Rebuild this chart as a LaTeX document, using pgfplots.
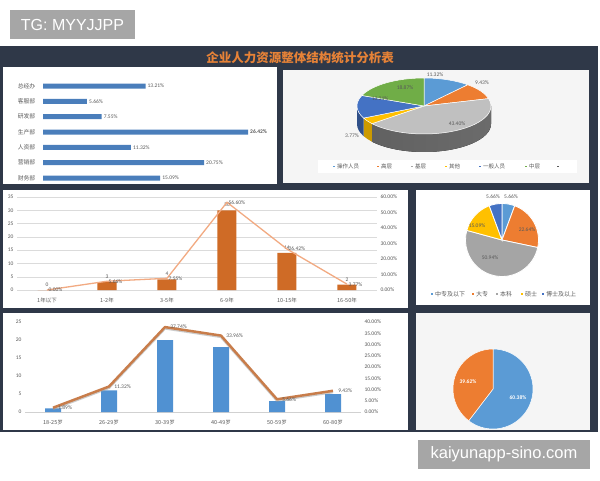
\documentclass[border=0pt]{standalone}
\usepackage{pgfplots}
\pgfplotsset{compat=1.18}
\usepackage{fontspec}
\setmainfont{Carlito}
\newfontfamily\cjk{Noto Sans CJK SC}
\newfontfamily\wm{Liberation Sans}
\pgfplotsset{/pgf/number format/assume math mode=true}
\definecolor{dashbg}{RGB}{47,56,72}
\definecolor{wmgray}{RGB}{166,166,166}
\definecolor{ttl}{RGB}{230,130,55}
\definecolor{barblue}{RGB}{74,126,187}
\definecolor{lbl}{RGB}{89,89,89}
\definecolor{xblue}{RGB}{91,155,213}
\definecolor{xorange}{RGB}{237,125,49}
\definecolor{xgray}{RGB}{165,165,165}
\definecolor{xyellow}{RGB}{255,192,0}
\definecolor{xdblue}{RGB}{68,114,196}
\definecolor{xgreen}{RGB}{112,173,71}
\definecolor{svcbar}{RGB}{207,107,38}
\definecolor{svcline}{RGB}{242,170,130}
\definecolor{agebar}{RGB}{80,145,210}
\definecolor{ageline}{RGB}{200,125,75}
\definecolor{panelgray}{RGB}{245,245,245}
\newcommand{\sm}{\fontsize{5.5}{6}\selectfont}
\newcommand{\sector}[5]{\fill[#1] (axis cs:0,0) -- ++(#2:#4 and #5) arc[start angle=#2,end angle=#3,x radius=#4,y radius=#5] -- cycle;}
\newcommand{\sideseg}[6]{\fill[#1] (axis cs:0,0) ++(#2:#4 and #5) -- ++(0pt,-#6) arc[start angle=#2,end angle=#3,x radius=#4,y radius=#5] -- ++(0pt,#6) arc[start angle=#3,end angle=#2,x radius=#4,y radius=#5] -- cycle;}
\tikzset{
 sd1/.style={fill=xblue!70!black}, sd2/.style={fill=xorange!70!black},
 sd3/.style={left color=black!62, middle color=black!35, right color=black!58},
 sd4/.style={fill=xyellow!80!black}, sd5/.style={fill=xdblue!70!black}, sd6/.style={fill=xgreen!70!black}}
\begin{document}
\begin{tikzpicture}[x=1pt,y=1pt]
\path[use as bounding box] (0,0) rectangle (600,480);
\fill[white] (0,0) rectangle (600,480);
\fill[wmgray] (10,441) rectangle (135,470);
\node[text=white, font=\wm\fontsize{16}{16}\selectfont] at (72.5,455.5) {TG: MYYJJPP};
\fill[dashbg] (0,48) rectangle (598,434);
\node[font=\cjk\bfseries\fontsize{12.5}{13}\selectfont, text=ttl] at (300,422) {企业人力资源整体结构统计分析表};
\fill[white] (3,296) rectangle (277,413);
\fill[panelgray] (283,297) rectangle (589,410);
\fill[white] (3,172) rectangle (408,290);
\fill[white] (416,175) rectangle (590,290);
\fill[white] (3,50) rectangle (408,167);
\fill[panelgray] (416,50) rectangle (590,167);
\fill[wmgray] (418,11) rectangle (590,40);
\node[text=white,font=\wm\fontsize{16.5}{17}\selectfont] at (504,25.5) {kaiyunapp-sino.com};

% Panel 1: department
\begin{axis}[at={(43pt,294.3pt)}, anchor=south west, scale only axis, width=232.8pt, height=107.3pt,
 xbar, xmin=0, xmax=30, ymin=-0.5, ymax=6.5, y dir=reverse, bar width=5pt,
 hide x axis, axis y line*=left, y axis line style={draw=none},
 ytick={0,...,6}, yticklabels={总经办,客服部,研发部,生产部,人资部,营销部,财务部},
 yticklabel style={font=\cjk\fontsize{5.8}{6}\selectfont, text=lbl}, ytick style={draw=none},
 nodes near coords, point meta=explicit symbolic,
 every node near coord/.append style={font=\sm, text=lbl, anchor=west, inner sep=2pt}, clip=false]
\addplot[fill=barblue, draw=none] coordinates {(13.21,0)[13.21\%] (5.66,1)[5.66\%] (7.55,2)[7.55\%] (26.42,3)[\textbf{26.42\%}] (11.32,4)[11.32\%] (20.75,5)[20.75\%] (15.09,6)[15.09\%]};
\end{axis}

% Panel 2: 3D pie
\begin{axis}[at={(424pt,374pt)}, anchor=center, scale only axis, width=134pt, height=56pt,
 xmin=-1,xmax=1,ymin=-1,ymax=1, hide axis, clip=false]
\pgfplotsextra{
 \gdef\cum{0}
 \foreach \v/\s in {11.32/sd1, 9.43/sd2, 43.40/sd3, 3.77/sd4, 13.21/sd5, 18.87/sd6}{
   \pgfmathsetmacro{\a}{90-3.6*\cum}
   \pgfmathsetmacro{\b}{90-3.6*(\cum+\v)}
   \pgfmathsetmacro{\sa}{max(\b,-180)}
   \pgfmathsetmacro{\sb}{min(\a,0)}
   \pgfmathparse{\sa<\sb ? 1 : 0}
   \ifnum\pgfmathresult=1 \sideseg{\s}{\sb}{\sa}{67pt}{28pt}{18pt}\fi
   \pgfmathsetmacro{\n}{\cum+\v}\xdef\cum{\n}
 }
 \gdef\cum{0}
 \foreach \v/\c in {11.32/xblue, 9.43/xorange, 43.40/xgray!70, 3.77/xyellow, 13.21/xdblue, 18.87/xgreen}{
   \pgfmathsetmacro{\a}{90-3.6*\cum}
   \pgfmathsetmacro{\b}{90-3.6*(\cum+\v)}
   \sector{\c,draw=white,line width=0.5pt}{\a}{\b}{67pt}{28pt}
   \pgfmathsetmacro{\n}{\cum+\v}\xdef\cum{\n}
 }
}
\end{axis}
\begin{scope}[every node/.style={font=\sm, text=lbl}]
\node at (435,405) {11.32\%};
\node at (482,397) {9.43\%};
\node at (457,356) {43.40\%};
\node at (352,344) {3.77\%};
\node at (380,381) {13.21\%};
\node at (405,392) {18.87\%};
\end{scope}
\fill[white] (318,307) rectangle (577,320);
\begin{scope}[every node/.style={font=\cjk\fontsize{5.5}{6}\selectfont, text=lbl, anchor=west, inner sep=0pt}]
\foreach \x/\c/\t in {334/xblue/操作人员, 378/xorange/高层, 412/xgray/基层, 446/xyellow/其他, 480/xdblue/一般人员, 526/xgreen/中层}{
 \fill[\c] (\x-0.8,312.7) rectangle (\x+0.8,314.3);
 \node at (\x+3,313.5) {\t};
}
\fill[lbl] (557.2,312.7) rectangle (558.8,314.3);
\end{scope}

% Panel 3: years of service
\begin{axis}[at={(17pt,190pt)}, anchor=south west, scale only axis, width=360pt, height=93pt,
 xmin=-0.5, xmax=5.5, ymin=0, ymax=35, ytick={0,5,...,35}, ymajorgrids, grid style={draw=black!14},
 axis line style={draw=none}, tick style={draw=none},
 xtick={0,...,5}, xticklabels={1年以下,1-2年,3-5年,6-9年,10-15年,16-50年},
 xticklabel style={font=\cjk\fontsize{5.5}{6}\selectfont, text=lbl},
 yticklabel style={font=\sm, text=lbl},
 ybar, bar width=19pt, nodes near coords,
 every node near coord/.append style={font=\sm, text=lbl}, clip=false]
\addplot[fill=svcbar, draw=none] coordinates {(0,0) (1,3) (2,4) (3,30) (4,14) (5,2)};
\end{axis}
\begin{axis}[at={(17pt,190pt)}, anchor=south west, scale only axis, width=360pt, height=93pt,
 xmin=-0.5, xmax=5.5, ymin=0, ymax=60, axis y line*=right, axis x line=none,
 y axis line style={draw=none}, ytick style={draw=none}, ytick={0,10,...,60},
 yticklabel={\pgfmathprintnumber[fixed,fixed zerofill,precision=2]{\tick}\%},
 yticklabel style={font=\sm, text=lbl}, clip=false]
\addplot[svcline, line width=1.3pt, mark=none,
 nodes near coords={\pgfmathprintnumber[fixed,fixed zerofill,precision=2]{\pgfplotspointmeta}\%},
 every node near coord/.append style={font=\sm, text=lbl, anchor=west, inner sep=1pt}]
 coordinates {(0,0) (1,5.66) (2,7.55) (3,56.60) (4,26.42) (5,3.77)};
\end{axis}

% Panel 4: education pie
\begin{axis}[at={(502pt,240pt)}, anchor=center, scale only axis, width=73pt, height=73pt,
 xmin=-1,xmax=1,ymin=-1,ymax=1, hide axis, clip=false]
\pgfplotsextra{
 \gdef\cum{0}
 \foreach \v/\c in {5.66/xblue, 22.64/xorange, 50.94/xgray, 15.09/xyellow, 5.66/xdblue}{
   \pgfmathsetmacro{\a}{90-3.6*\cum}
   \pgfmathsetmacro{\b}{90-3.6*(\cum+\v)}
   \sector{\c,draw=white,line width=0.8pt}{\a}{\b}{36.5pt}{36.5pt}
   \pgfmathsetmacro{\n}{\cum+\v}\xdef\cum{\n}
 }
}
\end{axis}
\begin{scope}[every node/.style={font=\sm, text=lbl}]
\node at (493,283) {5.66\%};
\node at (511,283) {5.66\%};
\node at (527,250) {22.64\%};
\node at (490,222) {50.94\%};
\node at (477,254) {15.09\%};
\end{scope}
\begin{scope}[every node/.style={font=\cjk\fontsize{6}{6}\selectfont, text=lbl, anchor=west, inner sep=0pt}]
\foreach \x/\c/\t in {432/xblue/中专及以下, 473/xorange/大专, 497/xgray/本科, 522/xyellow/硕士, 543/xdblue/博士及以上}{
 \fill[\c] (\x-1,185) rectangle (\x+1,187);
 \node at (\x+3,186) {\t};
}
\end{scope}

% Panel 5: age
\begin{axis}[at={(25pt,68pt)}, anchor=south west, scale only axis, width=336pt, height=90pt,
 xmin=-0.5, xmax=5.5, ymin=0, ymax=25, ytick={0,5,...,25},
 axis lines*=left, y axis line style={draw=none}, x axis line style={draw=black!18},
 tick style={draw=none},
 xtick={0,...,5}, xticklabels={18-25岁,26-29岁,30-39岁,40-49岁,50-59岁,60-80岁},
 xticklabel style={font=\cjk\fontsize{5.5}{6}\selectfont, text=lbl},
 yticklabel style={font=\sm, text=lbl},
 ybar, bar width=16pt, clip=false]
\addplot[fill=agebar, draw=none] coordinates {(0,1) (1,6) (2,20) (3,18) (4,3) (5,5)};
\end{axis}
\begin{axis}[at={(25pt,68pt)}, anchor=south west, scale only axis, width=336pt, height=90pt,
 xmin=-0.5, xmax=5.5, ymin=0, ymax=40, axis y line*=right, axis x line=none,
 y axis line style={draw=none}, ytick style={draw=none}, ytick={0,5,...,40},
 yticklabel={\pgfmathprintnumber[fixed,fixed zerofill,precision=2]{\tick}\%},
 yticklabel style={font=\sm, text=lbl}, clip=false]
\addplot[black!40, opacity=0.5, line width=2.6pt, mark=none, forget plot, transform canvas={yshift=-1.2pt}]
 coordinates {(0,1.89) (1,11.32) (2,37.74) (3,33.96) (4,5.66) (5,9.43)};
\addplot[ageline, line width=2.5pt, mark=none, line join=round,
 nodes near coords={\pgfmathprintnumber[fixed,fixed zerofill,precision=2]{\pgfplotspointmeta}\%},
 every node near coord/.append style={font=\sm, text=lbl, anchor=west, inner sep=1pt, xshift=3pt}]
 coordinates {(0,1.89) (1,11.32) (2,37.74) (3,33.96) (4,5.66) (5,9.43)};
\end{axis}

% Panel 6: gender pie
\begin{axis}[at={(493pt,91pt)}, anchor=center, scale only axis, width=80pt, height=80pt,
 xmin=-1,xmax=1,ymin=-1,ymax=1, hide axis, clip=false]
\pgfplotsextra{
 \gdef\cum{0}
 \foreach \v/\c in {60.38/xblue, 39.62/xorange}{
   \pgfmathsetmacro{\a}{90-3.6*\cum}
   \pgfmathsetmacro{\b}{90-3.6*(\cum+\v)}
   \sector{\c,draw=white,line width=0.5pt}{\a}{\b}{40pt}{40pt}
   \pgfmathsetmacro{\n}{\cum+\v}\xdef\cum{\n}
 }
}
\end{axis}
\node[font=\sm\bfseries, text=white] at (468,98) {39.62\%};
\node[font=\sm\bfseries, text=white] at (518,82) {60.38\%};
\end{tikzpicture}
\end{document}
